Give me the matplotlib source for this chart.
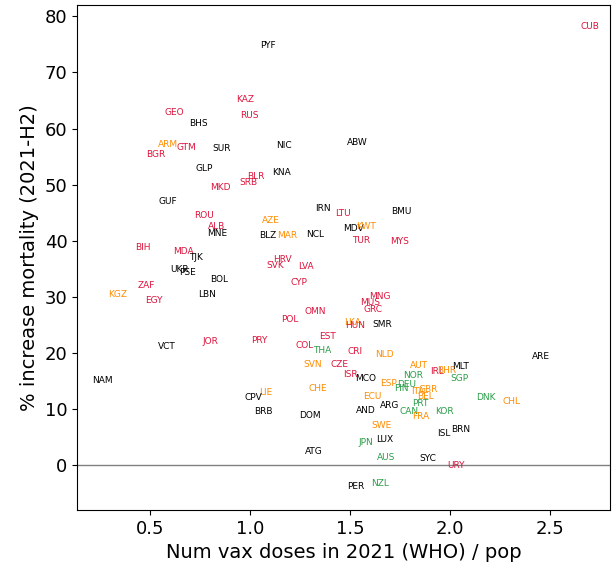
import matplotlib
matplotlib.use("Agg")
import matplotlib.pyplot as plt

# country codes, vax doses per pop, % increase mortality, colour group
codes = ["PYF", "CUB", "KAZ", "RUS", "GEO", "BHS", "ARM", "GTM", "BGR", "SUR",
         "NIC", "ABW", "GLP", "KNA", "BLR", "SRB", "MKD", "GUF", "ROU", "ALB",
         "MNE", "AZE", "BLZ", "MAR", "NCL", "IRN", "LTU", "MDV", "KWT", "BMU",
         "TUR", "MYS", "BIH", "MDA", "TJK", "UKR", "PSE", "BOL", "LBN", "ZAF",
         "EGY", "KGZ", "HRV", "SVK", "LVA", "CYP", "MNG", "MUS", "GRC", "POL",
         "OMN", "SMR", "LKA", "HUN", "EST", "COL", "THA", "CRI", "NLD", "SVN",
         "CZE", "ISR", "MCO", "ESP", "ECU", "CHE", "LIE", "CPV", "BRB", "DOM",
         "ATG", "NAM", "VCT", "JOR", "PRY", "AUT", "NOR", "IRL", "BHR", "MLT",
         "SGP", "DEU", "FIN", "ITA", "GBR", "BEL", "DNK", "CHL", "ARE", "AND",
         "ARG", "PRT", "CAN", "FRA", "KOR", "SWE", "JPN", "LUX", "ISL", "BRN",
         "AUS", "SYC", "URY", "PER", "NZL"]

doses = [1.09, 2.70, 0.975, 0.995, 0.62, 0.74, 0.59, 0.68, 0.53, 0.855,
         1.17, 1.535, 0.77, 1.155, 1.03, 0.99, 0.85, 0.59, 0.77, 0.83,
         0.835, 1.105, 1.09, 1.185, 1.325, 1.365, 1.465, 1.515, 1.58, 1.755,
         1.555, 1.75, 0.465, 0.665, 0.73, 0.645, 0.685, 0.845, 0.785, 0.48,
         0.52, 0.335, 1.16, 1.125, 1.28, 1.245, 1.65, 1.60, 1.615, 1.20,
         1.325, 1.66, 1.51, 1.525, 1.385, 1.275, 1.36, 1.525, 1.67, 1.315,
         1.445, 1.50, 1.58, 1.69, 1.61, 1.34, 1.08, 1.015, 1.065, 1.30,
         1.32, 0.26, 0.585, 0.80, 1.045, 1.845, 1.815, 1.935, 1.985, 2.055,
         2.045, 1.785, 1.755, 1.84, 1.89, 1.875, 2.18, 2.31, 2.455, 1.58,
         1.70, 1.85, 1.795, 1.855, 1.97, 1.655, 1.58, 1.675, 1.97, 2.055,
         1.68, 1.89, 2.03, 1.53, 1.65]

mort = [74.8, 78.2, 65.2, 62.3, 62.9, 60.9, 57.1, 56.6, 55.4, 56.4,
        57.0, 57.5, 52.9, 52.1, 51.4, 50.4, 49.5, 47.0, 44.5, 42.5,
        41.3, 43.6, 40.9, 40.9, 41.1, 45.7, 44.8, 42.1, 42.6, 45.2,
        40.0, 39.8, 38.8, 38.0, 37.1, 34.8, 34.3, 33.0, 30.5, 32.0,
        29.3, 30.5, 36.6, 35.5, 35.4, 32.5, 30.0, 28.9, 27.7, 25.9,
        27.3, 25.0, 25.5, 24.8, 22.9, 21.4, 20.5, 20.2, 19.8, 18.0,
        17.9, 16.1, 15.5, 14.6, 12.3, 13.6, 13.0, 12.1, 9.6, 8.9,
        2.5, 15.0, 21.1, 22.0, 22.3, 17.7, 15.9, 16.6, 16.8, 17.5,
        15.4, 14.3, 13.6, 13.2, 13.5, 12.3, 12.1, 11.4, 19.3, 9.8,
        10.7, 10.9, 9.6, 8.6, 9.5, 7.0, 4.1, 4.5, 5.7, 6.4,
        1.4, 1.1, 0.0, -3.75, -3.2]

groups = ["k", "r", "r", "r", "r", "k", "o", "r", "r", "k",
          "k", "k", "k", "k", "r", "r", "r", "k", "r", "r",
          "k", "o", "k", "o", "k", "k", "r", "k", "o", "k",
          "r", "r", "r", "r", "k", "k", "k", "k", "k", "r",
          "r", "o", "r", "r", "r", "r", "r", "r", "r", "r",
          "r", "k", "o", "r", "r", "r", "g", "r", "o", "o",
          "r", "r", "k", "o", "o", "o", "o", "k", "k", "k",
          "k", "k", "k", "r", "r", "o", "g", "r", "o", "k",
          "g", "g", "g", "o", "o", "o", "g", "o", "k", "k",
          "k", "g", "g", "o", "g", "o", "g", "k", "k", "k",
          "g", "k", "r", "k", "g"]

palette = {"k": "black", "r": "crimson", "o": "darkorange", "g": "#2a9d48"}

fig, ax = plt.subplots(figsize=(6.13, 5.73), dpi=100)
fig.subplots_adjust(left=0.126, right=0.995, bottom=0.11, top=0.991)

for c, x, y, g in zip(codes, doses, mort, groups):
    ax.text(x, y, c, color=palette[g], fontsize=6.5, ha="center", va="center")

ax.axhline(0, color="gray", linewidth=1)
ax.set_xlim(0.135, 2.8)
ax.set_ylim(-8, 82)
ax.set_xticks([0.5, 1.0, 1.5, 2.0, 2.5])
ax.set_yticks(range(0, 81, 10))
ax.tick_params(labelsize=13)
ax.set_xlabel("Num vax doses in 2021 (WHO) / pop", fontsize=14)
ax.set_ylabel("% increase mortality (2021-H2)", fontsize=14)

plt.savefig("out.png")
